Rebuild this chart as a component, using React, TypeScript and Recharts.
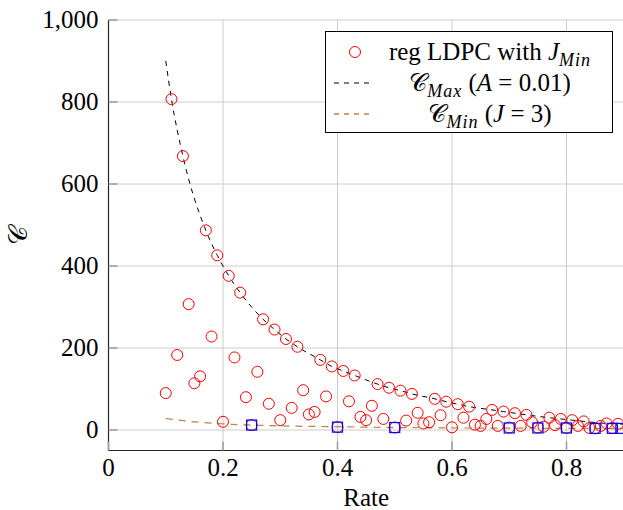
import React from 'react';
import { ComposedChart, Line, Scatter, XAxis, YAxis, CartesianGrid, Legend } from 'recharts';

// regular LDPC codes, one per rate step
const ldpcRates = [
  0.10, 0.11, 0.12, 0.13, 0.14, 0.15, 0.16, 0.17, 0.18, 0.19,
  0.20, 0.21, 0.22, 0.23, 0.24, 0.25, 0.26, 0.27, 0.28, 0.29,
  0.30, 0.31, 0.32, 0.33, 0.34, 0.35, 0.36, 0.37, 0.38, 0.39,
  0.40, 0.41, 0.42, 0.43, 0.44, 0.45, 0.46, 0.47, 0.48, 0.49,
  0.50, 0.51, 0.52, 0.53, 0.54, 0.55, 0.56, 0.57, 0.58, 0.59,
  0.60, 0.61, 0.62, 0.63, 0.64, 0.65, 0.66, 0.67, 0.68, 0.69,
  0.70, 0.71, 0.72, 0.73, 0.74, 0.75, 0.76, 0.77, 0.78, 0.79,
  0.80, 0.81, 0.82, 0.83, 0.84, 0.85, 0.86, 0.87, 0.88, 0.89,
];
const ldpcValues = [
  90, 807, 183, 668, 307, 114, 131, 487, 228, 426,
  20, 376, 177, 335, 80, 12, 142, 270, 64, 245,
  24, 222, 54, 203, 97, 38, 44, 171, 82, 155,
  7, 144, 70, 133, 32, 24, 59, 112, 27, 103,
  6, 96, 23, 88, 42, 16, 19, 76, 36, 69,
  6.5, 63, 30, 57, 13, 10, 27, 49, 10, 45,
  6, 41, 10, 37, 19, 6, 8, 30, 12, 27,
  5, 24, 10, 21, 5, 4, 10, 16, 5, 15,
];

// blue squares
const squareRates = [0.25, 0.4, 0.5, 0.7, 0.75, 0.8, 0.85, 0.88, 0.895];
const squareValues = [12, 7, 6, 5, 5, 5, 4, 4, 4];

// C_Max (A = 0.01)
const maxRates = [
  0.10, 0.11, 0.13, 0.17, 0.19, 0.21, 0.23, 0.27, 0.29, 0.31, 0.33, 0.37, 0.39,
  0.41, 0.43, 0.47, 0.49, 0.51, 0.53, 0.57, 0.59, 0.61, 0.63, 0.67, 0.69,
  0.71, 0.73, 0.77, 0.79, 0.81, 0.83, 0.87, 0.89, 0.90,
];
const maxValues = [
  900, 807, 668, 487, 426, 376, 335, 270, 245, 222, 203, 171, 155,
  144, 133, 112, 103, 96, 88, 76, 69, 63, 57, 49, 45,
  41, 37, 30, 27, 24, 21, 16, 15, 14,
];

// C_Min (J = 3)
const minRates = [0.1, 0.15, 0.2, 0.25, 0.3, 0.4, 0.5, 0.6, 0.7, 0.8, 0.9];
const minValues = [28, 20, 15, 12, 10, 8, 6, 5, 4.5, 4, 3.5];

const xTicks = [0, 0.2, 0.4, 0.6, 0.8];
const yTicks = [0, 200, 400, 600, 800, 1000];

const ldpcData = ldpcRates.map((x, i) => ({ x, y: ldpcValues[i] }));
const squareData = squareRates.map((x, i) => ({ x, y: squareValues[i] }));
const maxData = maxRates.map((x, i) => ({ x, y: maxValues[i] }));
const minData = minRates.map((x, i) => ({ x, y: minValues[i] }));

const serif = '"Liberation Serif", "Times New Roman", serif';
const serifStyle: React.CSSProperties = { fontFamily: serif };
const tickMark = '#9a9a9a';
const frame = '#262626';
const brown = '#bf8040';

const fmtY = (v: number) => v.toLocaleString('en-US');

function BottomTick({ x, y, payload }: any) {
  return (
    <g>
      <line x1={x} y1={y} x2={x} y2={y - 9} stroke={tickMark} strokeWidth={1.5} />
      <text x={x} y={y + 25.5} textAnchor="middle" style={serifStyle} fontSize={25} fill="#000">
        {String(payload.value)}
      </text>
    </g>
  );
}

function TopTick({ x, y }: any) {
  return <line x1={x} y1={y} x2={x} y2={y + 9} stroke={tickMark} strokeWidth={1.5} />;
}

function LeftTick({ x, y, payload }: any) {
  return (
    <g>
      <line x1={x} y1={y} x2={x + 9} y2={y} stroke={tickMark} strokeWidth={1.5} />
      <text x={x - 10} y={y + 8} textAnchor="end" style={serifStyle} fontSize={25} fill="#000">
        {fmtY(payload.value)}
      </text>
    </g>
  );
}

const Circle = ({ cx, cy }: any) => (
  <circle cx={cx} cy={cy} r={5.5} fill="none" stroke="#ff0000" strokeWidth={1} />
);
const Square = ({ cx, cy }: any) => (
  <rect x={cx - 5} y={cy - 5} width={10} height={10} fill="none" stroke="#0000ff" strokeWidth={1.2} />
);

const sub: React.CSSProperties = { fontSize: 18, fontStyle: 'italic', position: 'relative', top: 6, letterSpacing: 1 };

function LegendBox() {
  const row = (top: number): React.CSSProperties => ({
    position: 'absolute', left: 0, right: 0, top: top - 15, height: 30, lineHeight: '30px',
  });
  const text: React.CSSProperties = { position: 'absolute', left: 47, right: 5, textAlign: 'center', whiteSpace: 'nowrap' };
  return (
    <div
      style={{
        width: 288, height: 102, boxSizing: 'border-box', border: '1px solid #000', background: '#fff',
        fontFamily: serif, fontSize: 25, color: '#000', position: 'relative',
      }}
    >
      <div style={row(20)}>
        <svg width={48} height={30} style={{ position: 'absolute', left: 4, top: 0 }}>
          <circle cx={25} cy={15} r={5.5} fill="none" stroke="#ff0000" strokeWidth={1} />
        </svg>
        <span style={text}>
          reg LDPC with <i>J</i><span style={sub}>Min</span>
        </span>
      </div>
      <div style={row(51)}>
        <svg width={48} height={30} style={{ position: 'absolute', left: 4, top: 0 }}>
          <line x1={4} y1={15} x2={42} y2={15} stroke="#555" strokeWidth={1.3} strokeDasharray="5 5" />
        </svg>
        <span style={text}>
          <span style={{ fontWeight: 'normal' }}>𝒞</span><span style={sub}>Max</span> (<i>A</i> = 0.01)
        </span>
      </div>
      <div style={row(82)}>
        <svg width={48} height={30} style={{ position: 'absolute', left: 4, top: 0 }}>
          <line x1={4} y1={15} x2={42} y2={15} stroke={brown} strokeWidth={1.3} strokeDasharray="5 5" />
        </svg>
        <span style={text}>
          <span style={{ fontWeight: 'normal' }}>𝒞</span><span style={sub}>Min</span> (<i>J</i> = 3)
        </span>
      </div>
    </div>
  );
}

export default function App() {
  return (
    <div style={{ position: 'fixed', left: 0, top: 0, width: 623, height: 510, overflow: 'hidden', background: '#fff' }}>
      <ComposedChart width={640} height={510} margin={{ top: 20, right: 16.25, bottom: 0, left: 0 }}>
        <CartesianGrid stroke="#cccccc" strokeWidth={1} />
        <XAxis
          dataKey="x"
          type="number"
          domain={[0, 0.9]}
          ticks={xTicks}
          height={59.5}
          tickSize={0}
          tickMargin={0}
          tickLine={false}
          axisLine={{ stroke: frame, strokeWidth: 1.2 }}
          tick={<BottomTick />}
          interval={0}
          label={({ viewBox }: any) => (
            <text
              x={viewBox.x + viewBox.width / 2}
              y={viewBox.y + 55}
              textAnchor="middle"
              style={serifStyle}
              fontSize={25}
              fill="#000"
            >
              Rate
            </text>
          )}
        />
        <XAxis
          xAxisId="top"
          orientation="top"
          dataKey="x"
          type="number"
          domain={[0, 0.9]}
          ticks={xTicks}
          height={0}
          tickSize={0}
          tickMargin={0}
          tickLine={false}
          axisLine={{ stroke: frame, strokeWidth: 1.2 }}
          tick={<TopTick />}
          interval={0}
        />
        <YAxis
          dataKey="y"
          type="number"
          domain={[-50, 1000]}
          ticks={yTicks}
          width={108.5}
          tickSize={0}
          tickMargin={0}
          tickLine={false}
          axisLine={{ stroke: frame, strokeWidth: 1.2 }}
          tick={<LeftTick />}
          interval={0}
          label={({ viewBox }: any) => {
            const cx = 18;
            const cy = viewBox.y + viewBox.height / 2;
            return (
              <text
                x={cx}
                y={cy}
                transform={`rotate(-90, ${cx}, ${cy})`}
                textAnchor="middle"
                dominantBaseline="central"
                style={serifStyle}
                fontSize={26}
                fill="#000"
              >
                𝒞
              </text>
            );
          }}
        />
        <Legend
          layout="horizontal"
          verticalAlign="middle"
          align="center"
          wrapperStyle={{ position: 'absolute', left: 325, top: 31, width: 288, height: 102 }}
          content={() => <LegendBox />}
        />
        <Line
          data={minData}
          dataKey="y"
          type="monotone"
          stroke={brown}
          strokeWidth={1.2}
          strokeDasharray="7 6"
          dot={false}
          isAnimationActive={false}
        />
        <Line
          data={maxData}
          dataKey="y"
          type="monotone"
          stroke="#000"
          strokeWidth={1}
          strokeDasharray="5 5"
          dot={false}
          isAnimationActive={false}
        />
        <Scatter data={ldpcData} dataKey="y" shape={<Circle />} isAnimationActive={false} />
        <Scatter data={squareData} dataKey="y" shape={<Square />} isAnimationActive={false} />
      </ComposedChart>
    </div>
  );
}
